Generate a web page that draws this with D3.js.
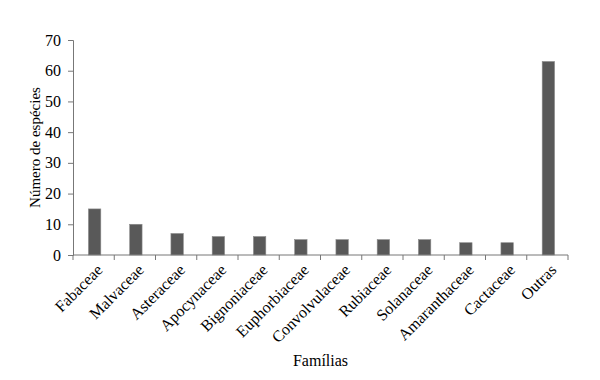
<!DOCTYPE html>
<html>
<head>
<meta charset="utf-8">
<script src="https://cdn.jsdelivr.net/npm/d3@7"></script>
<style>
  body { margin: 0; background: #fff; }
  svg text { font-family: "Liberation Serif", "DejaVu Serif", serif; fill: #000; }
</style>
</head>
<body>
<div id="chart"></div>
<script>
// familias e numero de especies
var familias = ["Fabaceae", "Malvaceae", "Asteraceae", "Apocynaceae", "Bignoniaceae", "Euphorbiaceae",
                "Convolvulaceae", "Rubiaceae", "Solanaceae", "Amaranthaceae", "Cactaceae", "Outras"];
var especies = [15, 10, 7, 6, 6, 5, 5, 5, 5, 4, 4, 63];
var yTicks = [0, 10, 20, 30, 40, 50, 60, 70];

var width = 600, height = 380,
    margin = {top: 40, right: 32, bottom: 125, left: 73};

var svg = d3.select("#chart").append("svg")
    .attr("width", width).attr("height", height);

var x = d3.scaleBand()
    .domain(familias)
    .range([margin.left, width - margin.right])
    .paddingInner(0.7).paddingOuter(0.35);

var y = d3.scaleLinear()
    .domain([0, 70])
    .range([height - margin.bottom, margin.top]);

// bars
svg.append("g").selectAll("rect")
    .data(familias)
    .enter().append("rect")
    .attr("x", function(d){ return x(d) + 1; })
    .attr("y", function(d, i){ return y(especies[i]); })
    .attr("width", x.bandwidth())
    .attr("height", function(d, i){ return y(0) - y(especies[i]); })
    .attr("fill", "#595959")
    .attr("stroke", "#8a8a8a")
    .attr("stroke-width", 0.6);

// y axis
var yAxis = svg.append("g")
    .attr("transform", "translate(" + margin.left + ",0)")
    .call(d3.axisLeft(y).tickValues(yTicks).tickSize(5).tickPadding(7));
yAxis.select(".domain").attr("stroke", "#777");
yAxis.selectAll(".tick line").attr("stroke", "#777");
yAxis.selectAll("text").style("font-size", "16px").attr("fill", "#000");

// x axis: line with tick marks at category boundaries
var x0 = margin.left, x1 = width - margin.right, base = y(0);
var step = (x1 - x0) / familias.length;
var xg = svg.append("g");
xg.append("line")
    .attr("x1", x0).attr("x2", x1)
    .attr("y1", base).attr("y2", base)
    .attr("stroke", "#777");
xg.selectAll("line.tk")
    .data(d3.range(familias.length + 1))
    .enter().append("line")
    .attr("class", "tk")
    .attr("x1", function(i){ return x0 + i * step; })
    .attr("x2", function(i){ return x0 + i * step; })
    .attr("y1", base).attr("y2", base + 5)
    .attr("stroke", "#777");

xg.selectAll("text")
    .data(familias)
    .enter().append("text")
    .attr("transform", function(d){
        return "translate(" + (x(d) + x.bandwidth() / 2 + 6) + "," + (base + 12) + ") rotate(-45)";
    })
    .attr("text-anchor", "end")
    .attr("dy", "0.35em")
    .style("font-size", "16px")
    .text(function(d){ return d; });

// axis titles
svg.append("text")
    .attr("transform", "translate(40," + ((margin.top + base) / 2) + ") rotate(-90)")
    .attr("text-anchor", "middle")
    .style("font-size", "15px")
    .text("Número de espécies");

svg.append("text")
    .attr("x", (x0 + x1) / 2)
    .attr("y", 366)
    .attr("text-anchor", "middle")
    .style("font-size", "16px")
    .text("Famílias");
</script>
</body>
</html>
